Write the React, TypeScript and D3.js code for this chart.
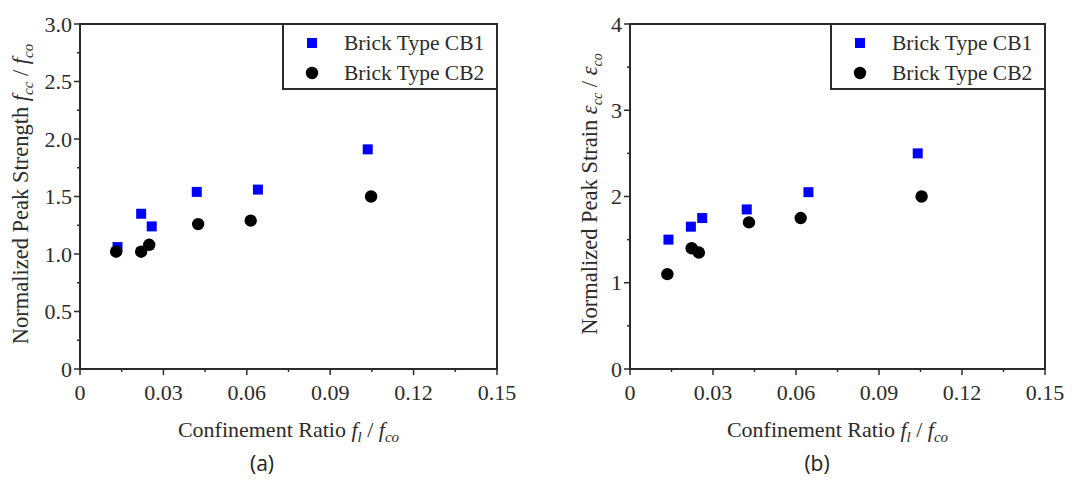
import * as d3 from "d3";

const W = 1085
const H = 484

// x values (confinement ratio f_l / f_co)
const xTicks = [0, 0.03, 0.06, 0.09, 0.12, 0.15]
const xTickLabels = ["0", "0.03", "0.06", "0.09", "0.12", "0.15"]

// (a) normalized peak strength
const ratioA_CB1 = [0.0135, 0.022, 0.0258, 0.042, 0.064, 0.1035]
const strengthCB1 = [1.06, 1.35, 1.24, 1.54, 1.56, 1.91]
const ratioA_CB2 = [0.013, 0.022, 0.0249, 0.0425, 0.0614, 0.1047]
const strengthCB2 = [1.02, 1.02, 1.08, 1.26, 1.29, 1.5]
const yTicksA = [0, 0.5, 1, 1.5, 2, 2.5, 3]
const yTickLabelsA = ["0", "0.5", "1.0", "1.5", "2.0", "2.5", "3.0"]

// (b) normalized peak strain
const ratioB_CB1 = [0.0139, 0.022, 0.0261, 0.0422, 0.0645, 0.104]
const strainCB1 = [1.5, 1.65, 1.75, 1.85, 2.05, 2.5]
const ratioB_CB2 = [0.0135, 0.0223, 0.0249, 0.043, 0.0617, 0.1054]
const strainCB2 = [1.1, 1.4, 1.35, 1.7, 1.75, 2.0]
const yTicksB = [0, 1, 2, 3, 4]
const yTickLabelsB = ["0", "1", "2", "3", "4"]

const seriesNames = ["Brick Type CB1", "Brick Type CB2"]

const serif = "Liberation Serif, DejaVu Serif, serif"
const ink = "#2b2b2b"
const fs = 22

function Sub({ base, sub, greek }: { base: string; sub: string; greek?: boolean }) {
    return (
        <>
            <tspan fontStyle="italic">{base}</tspan>
            <tspan fontStyle="italic" fontSize={greek ? 14 : 15} dy={5}>{sub}</tspan>
            <tspan dy={-5}> </tspan>
        </>
    )
}

function Panel({ left, right, top, bottom, yMax, yTicks, yTickLabels, yMinorStep,
    x1, y1, x2, y2, yLabel, caption, captionX }: any) {
    const x = d3.scaleLinear([0, 0.15], [left, right])
    const y = d3.scaleLinear([0, yMax], [bottom, top])
    const xMinor = d3.range(0.015, 0.15, 0.03)
    const yMinor = d3.range(yMinorStep, yMax, yMinorStep * 2)
    const cx = (left + right) / 2
    const legL = right - 214
    const txt = { fontFamily: serif, fontSize: fs, fill: ink }
    return (
        <g>
            {/* ticks */}
            {xTicks.map((t, i) => (
                <g key={"xt" + i}>
                    <line x1={x(t)} x2={x(t)} y1={bottom} y2={bottom + 6} stroke={ink} strokeWidth={1.5} />
                    <text x={x(t)} y={bottom + 31} textAnchor="middle" style={txt}>{xTickLabels[i]}</text>
                </g>
            ))}
            {xMinor.map((t, i) => (
                <line key={"xm" + i} x1={x(t)} x2={x(t)} y1={bottom} y2={bottom + 3} stroke={ink} strokeWidth={1.5} />
            ))}
            {yTicks.map((t: number, i: number) => (
                <g key={"yt" + i}>
                    <line x1={left - 6} x2={left} y1={y(t)} y2={y(t)} stroke={ink} strokeWidth={1.5} />
                    <text x={left - 8} y={y(t)} dy="0.35em" textAnchor="end" style={txt}>{yTickLabels[i]}</text>
                </g>
            ))}
            {yMinor.map((t: number, i: number) => (
                <line key={"ym" + i} x1={left - 3} x2={left} y1={y(t)} y2={y(t)} stroke={ink} strokeWidth={1.5} />
            ))}

            {/* data */}
            {x1.map((v: number, i: number) => (
                <rect key={"s" + i} x={x(v) - 5} y={y(y1[i]) - 5} width={10} height={10} fill="#0000ff" />
            ))}
            {x2.map((v: number, i: number) => (
                <circle key={"c" + i} cx={x(v)} cy={y(y2[i])} r={6.2} fill="#000" />
            ))}

            {/* frame */}
            <rect x={left} y={top} width={right - left} height={bottom - top} fill="none" stroke={ink} strokeWidth={2} />

            {/* legend */}
            <rect x={legL} y={top} width={right - legL} height={65} fill="#fff" stroke={ink} strokeWidth={2} />
            <rect x={legL + 24} y={top + 14} width={10} height={10} fill="#0000ff" />
            <circle cx={legL + 29} cy={top + 49} r={6.2} fill="#000" />
            <text x={legL + 61} y={top + 26} style={{ ...txt, fontSize: 21.5 }}>{seriesNames[0]}</text>
            <text x={legL + 61} y={top + 56} style={{ ...txt, fontSize: 21.5 }}>{seriesNames[1]}</text>

            {/* axis titles */}
            <text x={cx} y={bottom + 68} textAnchor="middle" style={txt}>
                Confinement Ratio <Sub base="f" sub="l" /><tspan>/ </tspan><Sub base="f" sub="co" />
            </text>
            {yLabel}
            <text x={captionX} y={bottom + 102} textAnchor="middle"
                style={{ fontFamily: "Open Sans, Noto Sans, sans-serif", fontSize: 21, fill: "#222" }}>{caption}</text>
        </g>
    )
}

export default function App() {
    const lbl = { fontFamily: serif, fontSize: 22.5, fill: ink }
    const labelA = (
        <text transform="translate(28,194) rotate(-90)" textAnchor="middle" style={lbl}>
            Normalized Peak Strength <Sub base="f" sub="cc" /><tspan> / </tspan><Sub base="f" sub="co" />
        </text>
    )
    const labelB = (
        <text transform="translate(597,194) rotate(-90)" textAnchor="middle" style={lbl}>
            Normalized Peak Strain <tspan>  </tspan><Sub base="ε" sub="cc" greek /><tspan> / </tspan><Sub base="ε" sub="co" greek />
        </text>
    )
    return (
        <svg width={W} height={H} viewBox={`0 0 ${W} ${H}`} style={{ position: "absolute", left: 0, top: 0, background: "#fff" }}>
            <Panel left={80} right={497} top={24} bottom={369} yMax={3} yTicks={yTicksA} yTickLabels={yTickLabelsA}
                yMinorStep={0.25} x1={ratioA_CB1} y1={strengthCB1} x2={ratioA_CB2} y2={strengthCB2}
                yLabel={labelA} caption="(a)" captionX={262} />
            <Panel left={630} right={1045} top={24} bottom={369} yMax={4} yTicks={yTicksB} yTickLabels={yTickLabelsB}
                yMinorStep={0.5} x1={ratioB_CB1} y1={strainCB1} x2={ratioB_CB2} y2={strainCB2}
                yLabel={labelB} caption="(b)" captionX={817} />
        </svg>
    )
}
